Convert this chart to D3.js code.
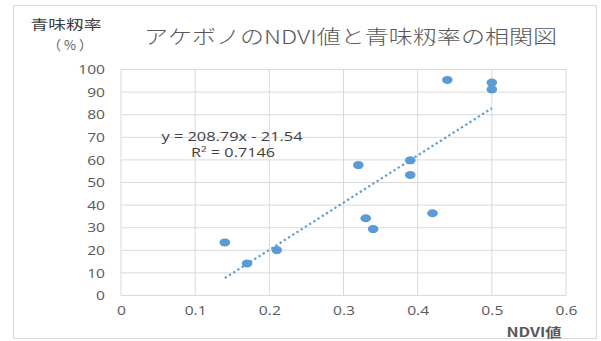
<!DOCTYPE html>
<html><head><meta charset="utf-8">
<script src="https://cdn.jsdelivr.net/npm/d3@7"></script>
<style>body{margin:0;background:#fff;}</style>
</head><body>
<svg id="c" width="601" height="341"></svg>
<script>
const ndvi = [0.14, 0.17, 0.21, 0.32, 0.33, 0.34, 0.39, 0.39, 0.42, 0.44, 0.50, 0.50];
const aomi = [23.5, 14.2, 20.1, 57.7, 34.2, 29.4, 59.8, 53.3, 36.4, 95.4, 94.2, 91.2];
const xTicks = [0, 0.1, 0.2, 0.3, 0.4, 0.5, 0.6];
const yTicks = [0, 10, 20, 30, 40, 50, 60, 70, 80, 90, 100];
const slope = 208.79, intercept = -21.54;
const titleText = "アケボノのNDVI値と青味籾率の相関図";
const eqText = "y = 208.79x - 21.54";
const r2Text = "R² = 0.7146";

const svg = d3.select("#c");
const font = "'Noto Sans CJK JP','Noto Sans',sans-serif";
const nfont = "'Open Sans',sans-serif";
function stretch(sel, k){ sel.each(function(){ const w=this.getComputedTextLength(); d3.select(this).attr("textLength",w*k).attr("lengthAdjust","spacingAndGlyphs");}); }

svg.append("rect").attr("x",13.5).attr("y",5.5).attr("width",583).attr("height",333)
  .attr("fill","#fff").attr("stroke","#d9d9d9");

const x = d3.scaleLinear().domain([0,0.6]).range([121,566]);
const y = d3.scaleLinear().domain([0,100]).range([295.5,69.5]);

// grid
svg.append("g").selectAll("line").data(yTicks).join("line")
  .attr("x1",x(0)).attr("x2",x(0.6)).attr("y1",d=>y(d)).attr("y2",d=>y(d))
  .attr("stroke","#d9d9d9").attr("stroke-width",1);
svg.append("g").selectAll("line").data(xTicks).join("line")
  .attr("y1",y(0)).attr("y2",y(100)).attr("x1",d=>x(d)).attr("x2",d=>x(d))
  .attr("stroke","#d9d9d9").attr("stroke-width",1);

// axes labels via d3 axes
const ya = svg.append("g").attr("transform",`translate(${x(0)},0)`)
  .call(d3.axisLeft(y).tickValues(yTicks).tickSize(0).tickPadding(16));
const xa = svg.append("g").attr("transform",`translate(0,${y(0)})`)
  .call(d3.axisBottom(x).tickValues(xTicks).tickSize(0).tickPadding(10).tickFormat(d=>d===0?"0":d3.format(".1f")(d)));
[ya,xa].forEach(a=>{a.select(".domain").remove();
  a.selectAll("text").attr("fill","#595959").attr("font-size",13).attr("font-family",nfont).call(stretch,1.2);});

// trendline
const tx = d3.extent(ndvi);
svg.append("line").attr("x1",x(tx[0])).attr("y1",y(slope*tx[0]+intercept))
  .attr("x2",x(tx[1])).attr("y2",y(slope*tx[1]+intercept))
  .attr("stroke","#5b9bd5").attr("stroke-width",2.2).attr("stroke-dasharray","2.2,2.8");

// points
svg.append("g").selectAll("ellipse").data(ndvi.map((v,i)=>[v,aomi[i]])).join("ellipse")
  .attr("cx",d=>x(d[0])).attr("cy",d=>y(d[1])).attr("rx",5.3).attr("ry",4)
  .attr("fill","#5b9bd5");

// equation
svg.append("text").attr("x",232).attr("y",141).attr("text-anchor","middle")
  .attr("font-family",nfont).attr("font-size",12).attr("fill","#404040")
  .attr("textLength",141).attr("lengthAdjust","spacingAndGlyphs").text(eqText);
svg.append("text").attr("x",233).attr("y",157).attr("text-anchor","middle")
  .attr("font-family",nfont).attr("font-size",12).attr("fill","#404040")
  .attr("textLength",84).attr("lengthAdjust","spacingAndGlyphs").text(r2Text);

// title
svg.append("text").attr("x",144).attr("y",44).attr("font-family",font).attr("font-size",19)
  .attr("font-weight",300).attr("fill","#595959").attr("textLength",413).attr("lengthAdjust","spacingAndGlyphs").text(titleText);

// y axis title
svg.append("text").attr("x",66).attr("y",29).attr("text-anchor","middle").attr("font-family",font)
  .attr("font-size",13).attr("fill","#404040").attr("textLength",71).attr("lengthAdjust","spacingAndGlyphs").text("青味籾率");
svg.append("text").attr("x",70).attr("y",50).attr("text-anchor","middle").attr("font-family",font)
  .attr("font-size",13).attr("fill","#595959").attr("textLength",44).attr("lengthAdjust","spacing").text("（%）");
// x axis title
svg.append("text").attr("x",534).attr("y",337).attr("text-anchor","middle").attr("font-family",font)
  .attr("font-size",13).attr("font-weight",700).attr("fill","#595959").attr("textLength",55).attr("lengthAdjust","spacingAndGlyphs").text("NDVI値");
</script>
</body></html>
